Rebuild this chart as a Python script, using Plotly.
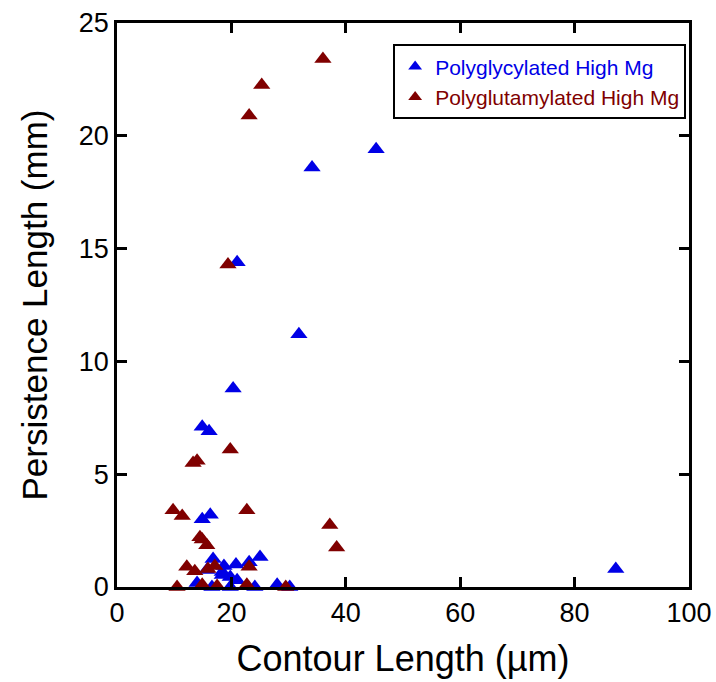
import plotly.graph_objects as go

# Polyglycylated High Mg
gly_x = [87.2, 45.3, 34.1, 21.0, 31.8, 20.3, 14.9, 16.1, 14.9, 16.3,
         16.8, 18.7, 20.8, 23.1, 25.0, 19.8, 18.4, 15.7, 14.0, 16.6,
         19.8, 24.1, 28.0, 30.2, 18.4, 21.0]
gly_y = [0.8, 19.4, 18.6, 14.4, 11.2, 8.8, 7.1, 6.9, 3.0, 3.2,
         1.24, 0.93, 1.0, 1.1, 1.33, 0.44, 0.53, 0.75, 0.18, 0.0,
         0.0, 0.0, 0.1, 0.0, 0.67, 0.3]

# Polyglutamylated High Mg
glu_x = [36.0, 25.3, 23.1, 19.4, 19.8, 13.3, 14.0, 9.8, 11.4, 22.7,
         14.9, 15.7, 12.2, 13.6, 15.9, 17.1, 23.1, 10.5, 14.9, 17.5,
         22.7, 29.5, 37.2, 38.4, 14.5]
glu_y = [23.4, 22.25, 20.9, 14.3, 6.1, 5.5, 5.6, 3.4, 3.15, 3.4,
         2.1, 1.85, 0.9, 0.7, 0.8, 0.93, 0.9, 0.0, 0.1, 0.04,
         0.1, 0.0, 2.75, 1.75, 2.2]

x_ticks = [0, 20, 40, 60, 80, 100]
y_ticks = [0, 5, 10, 15, 20, 25]

BLUE = "rgb(0,0,230)"
RED = "rgb(128,0,0)"
FONT = "Liberation Sans, Arial, sans-serif"

fig = go.Figure()
fig.add_trace(go.Scatter(
    x=gly_x, y=gly_y, mode="markers",
    name=f"<span style='color:{BLUE}'>Polyglycylated High Mg</span>",
    marker=dict(symbol="triangle-up", size=15, color=BLUE, line=dict(width=0)),
    cliponaxis=False,
))
fig.add_trace(go.Scatter(
    x=glu_x, y=glu_y, mode="markers",
    name=f"<span style='color:{RED}'>Polyglutamylated High Mg</span>",
    marker=dict(symbol="triangle-up", size=15, color=RED, line=dict(width=0)),
    cliponaxis=False,
))

axis_common = dict(
    showline=True, linecolor="black", linewidth=2.5, mirror="ticks",
    ticks="inside", ticklen=10, tickwidth=2.5, tickcolor="black",
    showgrid=False, zeroline=False, automargin=False,
    tickfont=dict(family=FONT, size=27, color="black"),
)

fig.update_layout(
    width=716, height=682,
    margin=dict(l=117, r=27, t=23, b=95),
    paper_bgcolor="white", plot_bgcolor="white",
    font=dict(family=FONT, color="black"),
    xaxis=dict(range=[0, 100], tickvals=x_ticks,
               title=dict(text="Contour Length (µm)", font=dict(size=36, family=FONT), standoff=19),
               **axis_common),
    yaxis=dict(range=[0, 25], tickvals=y_ticks,
               title=dict(text="Persistence Length (mm)", font=dict(size=35, family=FONT), standoff=21),
               **axis_common),
    legend=dict(x=0.995, y=0.962, xanchor="right", yanchor="top",
                bordercolor="black", borderwidth=2, bgcolor="white",
                font=dict(family=FONT, size=21), itemsizing="constant",
                itemwidth=30, tracegroupgap=0),
    showlegend=True,
)

fig.write_html("out.html", config={"displayModeBar": False},
               post_script="document.body.style.margin='0';")
